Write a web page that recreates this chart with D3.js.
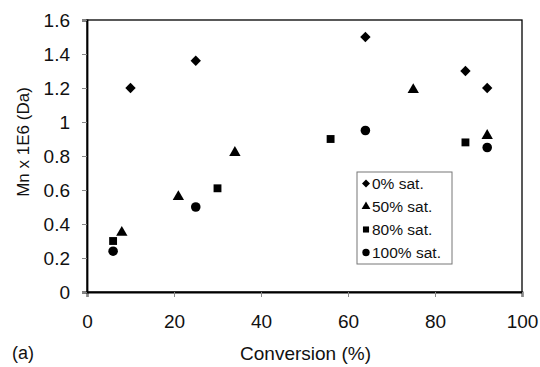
<!DOCTYPE html>
<html>
<head>
<meta charset="utf-8">
<script src="https://cdn.jsdelivr.net/npm/d3@7"></script>
<style>
	body { margin: 0; background: #fff; }
	svg text { font-family: "Liberation Sans", Arial, sans-serif; fill: #111; }
</style>
</head>
<body>
<div class="chart"></div>
<script>
// values
const sat0x = [10, 25, 64, 87, 92];
const sat0y = [1.2, 1.36, 1.5, 1.3, 1.2];
const sat50x = [8, 21, 34, 75, 92];
const sat50y = [0.35, 0.56, 0.82, 1.19, 0.92];
const sat80x = [6, 30, 56, 87];
const sat80y = [0.3, 0.61, 0.9, 0.88];
const sat100x = [6, 25, 64, 92];
const sat100y = [0.24, 0.5, 0.95, 0.85];

const seriesNames = ["0% sat.", "50% sat.", "80% sat.", "100% sat."];
const xTicks = [0, 20, 40, 60, 80, 100];
const yTicks = [0, 0.2, 0.4, 0.6, 0.8, 1, 1.2, 1.4, 1.6];

const margin = { top: 20, right: 18, left: 87, bottom: 75 };
const width = 540 - margin.left - margin.right;
const height = 367 - margin.top - margin.bottom;

const series = [
	{ name: seriesNames[0], xs: sat0x, ys: sat0y, shape: "diamond" },
	{ name: seriesNames[1], xs: sat50x, ys: sat50y, shape: "triangle" },
	{ name: seriesNames[2], xs: sat80x, ys: sat80y, shape: "square" },
	{ name: seriesNames[3], xs: sat100x, ys: sat100y, shape: "circle" },
];

const symbolType = {
	diamond: d3.symbolSquare,
	triangle: d3.symbolTriangle,
	square: d3.symbolSquare,
	circle: d3.symbolCircle,
};
const symbolSize = { diamond: 54, triangle: 56, square: 62, circle: 72 };
const rotFor = { diamond: 45, triangle: 0, square: 0, circle: 0 };
const marker = (shape, k) => d3.symbol().type(symbolType[shape]).size(symbolSize[shape] * k)();

const xScale = d3.scaleLinear().domain([0, 100]).range([0, width]);
const yScale = d3.scaleLinear().domain([0, 1.6]).range([height, 0]);

const svg = d3
	.select(".chart")
	.append("svg")
	.attr("width", 540)
	.attr("height", 367)
	.append("g")
	.attr("transform", `translate(${margin.left},${margin.top})`);

// frame
svg.append("rect")
	.attr("width", width)
	.attr("height", height)
	.attr("fill", "none")
	.attr("stroke", "#000")
	.attr("stroke-width", 1.3);

const xAxis = svg
	.append("g")
	.attr("transform", `translate(0,${height})`)
	.call(d3.axisBottom(xScale).tickValues(xTicks).tickSize(5).tickPadding(18));
const yAxis = svg
	.append("g")
	.call(d3.axisLeft(yScale).tickValues(yTicks).tickFormat((d) => String(d)).tickSize(5).tickPadding(12));

[xAxis, yAxis].forEach((ax) => {
	ax.select(".domain").attr("stroke", "#000").attr("stroke-width", 1.8);
	ax.selectAll(".tick line").attr("stroke", "#888");
	ax.selectAll(".tick text")
		.style("font-size", "19px")
		.style("font-family", "Liberation Sans, Arial, sans-serif")
		.attr("fill", "#111");
});
yAxis.selectAll(".tick text").attr("dy", "0.35em");

// points
series.forEach((s) => {
	svg.append("g")
		.selectAll("path")
		.data(s.xs.map((x, i) => [x, s.ys[i]]))
		.join("path")
		.attr("d", marker(s.shape, 1))
		.attr("transform", (d) => `translate(${xScale(d[0])},${yScale(d[1])}) rotate(${rotFor[s.shape]})`)
		.attr("fill", "#000");
});

// axis titles
svg.append("text")
	.attr("x", width / 2 + 1)
	.attr("y", height + 68)
	.attr("text-anchor", "middle")
	.style("font-size", "19px")
	.text("Conversion (%)");

svg.append("text")
	.attr("transform", `translate(${29 - margin.left},${142 - margin.top}) rotate(-90)`)
	.attr("text-anchor", "middle")
	.style("font-size", "17px")
	.text("Mn x 1E6 (Da)");

svg.append("text")
	.attr("x", 12 - margin.left)
	.attr("y", 359 - margin.top)
	.style("font-size", "18px")
	.text("(a)");

// legend
const legend = svg
	.append("g")
	.attr("transform", `translate(${357 - margin.left},${172 - margin.top})`);

legend.append("rect")
	.attr("width", 95)
	.attr("height", 92)
	.attr("fill", "#fff")
	.attr("stroke", "#777")
	.attr("stroke-width", 1);

const rows = legend
	.selectAll("g.row")
	.data(series)
	.join("g")
	.attr("class", "row")
	.attr("transform", (d, i) => `translate(0,${11.5 + i * 23})`);

rows.append("path")
	.attr("d", (d) => marker(d.shape, 0.6))
	.attr("transform", (d) => `translate(9,0) rotate(${rotFor[d.shape]})`)
	.attr("fill", "#000");

rows.append("text")
	.attr("x", 15)
	.attr("dy", "0.35em")
	.style("font-size", "15.5px")
	.text((d) => d.name);
</script>
</body>
</html>
